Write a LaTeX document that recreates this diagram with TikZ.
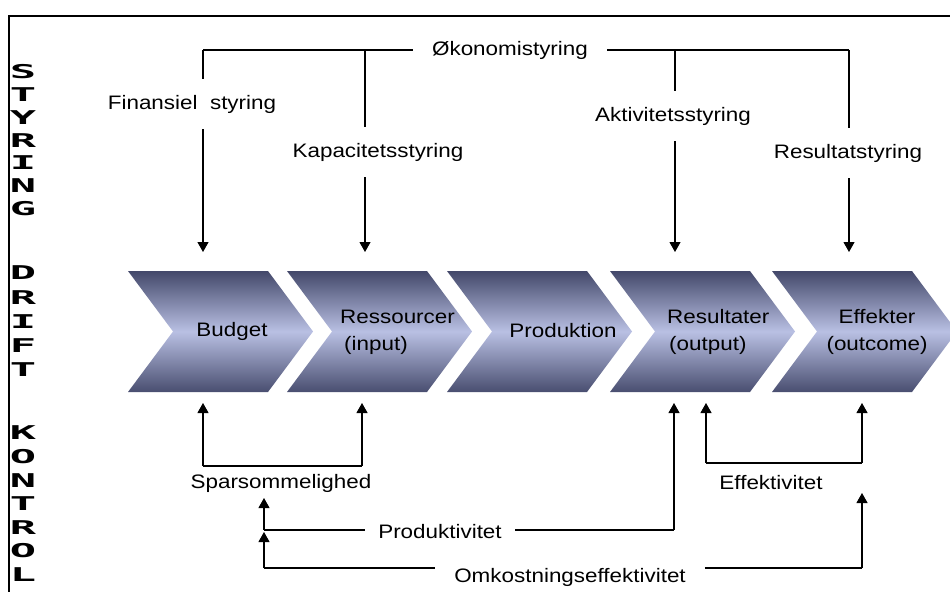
\documentclass[tikz,border=0pt]{standalone}
\usepackage{fontspec}
\setmainfont{Liberation Sans}
\newfontfamily\vfont{DejaVu Sans Mono}
\usepackage{graphicx}
\usetikzlibrary{arrows.meta}
\definecolor{chevdark}{HTML}{43486A}
\definecolor{chevdarkb}{HTML}{494E70}
\definecolor{chevlight}{HTML}{B9C0E3}
\newcommand\wt[1]{\scalebox{1.15}[1]{#1}}
\newcommand\chev[1]{\shade[chevshade] (#1,271) -- ++(140,0) -- ++(45,60.5) -- ++(-45,60.5) -- ++(-140,0) -- ++(45,-60.5) -- cycle;}
\tikzset{
  chevshade/.style={top color=chevdark, bottom color=chevdarkb, middle color=chevlight},
  txt/.style={font=\fontsize{19.5}{27}\selectfont, inner sep=0pt},
  lab/.style={txt, minimum height=50pt},
  gaplab/.style={txt, inner xsep=#1},
  vl/.style={line width=1.1pt},
  hl/.style={line width=1.9pt},
  arr/.style={-{Triangle[width=11pt,length=10pt]}},
  vlet/.style={font=\vfont\bfseries\fontsize{19}{19}\selectfont, inner sep=0pt}
}
\begin{document}
\begin{tikzpicture}[x=1pt,y=-1pt]
\useasboundingbox (0,0) rectangle (950,592);
% frame
\draw[line width=2.5pt] (950,16) -- (9,16) -- (9,592);
% side letters
\foreach \l [count=\i] in {S,T,Y,R,I,N,G}
  \node[vlet] (s\i) at (23,{72+22.7*(\i-1)}) {\scalebox{2.3}[1]{\l}};
\foreach \l [count=\i] in {D,R,I,F,T}
  \node[vlet] (d\i) at (23,{273+24.1*(\i-1)}) {\scalebox{2.3}[1]{\l}};
\foreach \l [count=\i] in {K,O,N,T,R,O,L}
  \node[vlet] (k\i) at (23,{433+23.6*(\i-1)}) {\scalebox{2.3}[1]{\l}};
% chevrons
\chev{128}\chev{287}\chev{447}\chev{610}\chev{772}
\node[txt] (n1) at (232,331) {\wt{Budget}};
\node[txt, anchor=west, align=left] (n2) at (340,332) {\wt{Ressourcer}\\\hspace{4pt}\wt{(input)}};
\node[txt] (n3) at (563,331) {\wt{Produktion}};
\node[txt, anchor=west, align=left] (n4) at (667,332) {\wt{Resultater}\\\hspace{2pt}\wt{(output)}};
\node[txt, align=center] (n5) at (877,332) {\wt{Effekter}\\\wt{(outcome)}};
% top
\coordinate (t1) at (203,50); \coordinate (t2) at (365,50);
\coordinate (t3) at (675,50); \coordinate (t4) at (849,50);
\coordinate (b1) at (203,252); \coordinate (b2) at (365,252);
\coordinate (b3) at (675,252); \coordinate (b4) at (849,252);
\node[gaplab=19pt] (oek) at (510,50) {\wt{Økonomistyring}};
\node[lab] (fin) at (192,104) {\wt{Finansiel\ \ styring}};
\node[lab] (kap) at (378,152) {\wt{Kapacitetsstyring}};
\node[lab] (akt) at (673,116) {\wt{Aktivitetsstyring}};
\node[lab] (res) at (848,153) {\wt{Resultatstyring}};
\draw[hl] (t1) -- (oek.west);
\draw[hl] (oek.east) -- (t4);
\draw[vl] (t1) -- (t1 |- fin.north);
\draw[vl,arr] (t1 |- fin.south) -- (b1);
\draw[vl] (t2) -- (t2 |- kap.north);
\draw[vl,arr] (t2 |- kap.south) -- (b2);
\draw[vl] (t3) -- (t3 |- akt.north);
\draw[vl,arr] (t3 |- akt.south) -- (b3);
\draw[vl] (t4) -- (t4 |- res.north);
\draw[vl,arr] (t4 |- res.south) -- (b4);
% bottom
\coordinate (u1) at (203,403); \coordinate (u2) at (362,403);
\coordinate (u3) at (674,403); \coordinate (u4) at (706,403);
\coordinate (u5) at (862,403);
\coordinate (c1) at (203,466); \coordinate (c2) at (362,466);
\coordinate (e1) at (706,463); \coordinate (e2) at (862,463);
\node[txt] (spar) at (281,483) {\wt{Sparsommelighed}};
\node[txt] (eff) at (771,483) {\wt{Effektivitet}};
\draw[hl] (c1) -- (c2);
\draw[vl,arr] (c1) -- (u1);
\draw[vl,arr] (c2) -- (u2);
\draw[hl] (e1) -- (e2);
\draw[vl,arr] (e1) -- (u4);
\draw[vl,arr] (e2) -- (u5);
% Produktivitet
\coordinate (p1) at (264,530); \coordinate (p0) at (264,498);
\coordinate (p2) at (674,530);
\node[gaplab=13.5pt] (prod) at (440,532) {\wt{Produktivitet}};
\draw[vl,arr] (p1) -- (p0);
\draw[hl] (p1) -- (p1 -| prod.west);
\draw[hl] (prod.east |- p1) -- (p2);
\draw[vl,arr] (p2) -- (u3);
% Omkostningseffektivitet
\coordinate (o1) at (264,568); \coordinate (o0) at (264,532);
\coordinate (o2) at (862,568); \coordinate (o3) at (862,493);
\node[gaplab=19pt] (omk) at (570,577) {\wt{Omkostningseffektivitet}};
\draw[vl,arr] (o1) -- (o0);
\draw[vl] (o1) -- (o1 -| omk.west);
\draw[vl] (omk.east |- o1) -- (o2);
\draw[vl,arr] (o2) -- (o3);
\end{tikzpicture}
\end{document}
